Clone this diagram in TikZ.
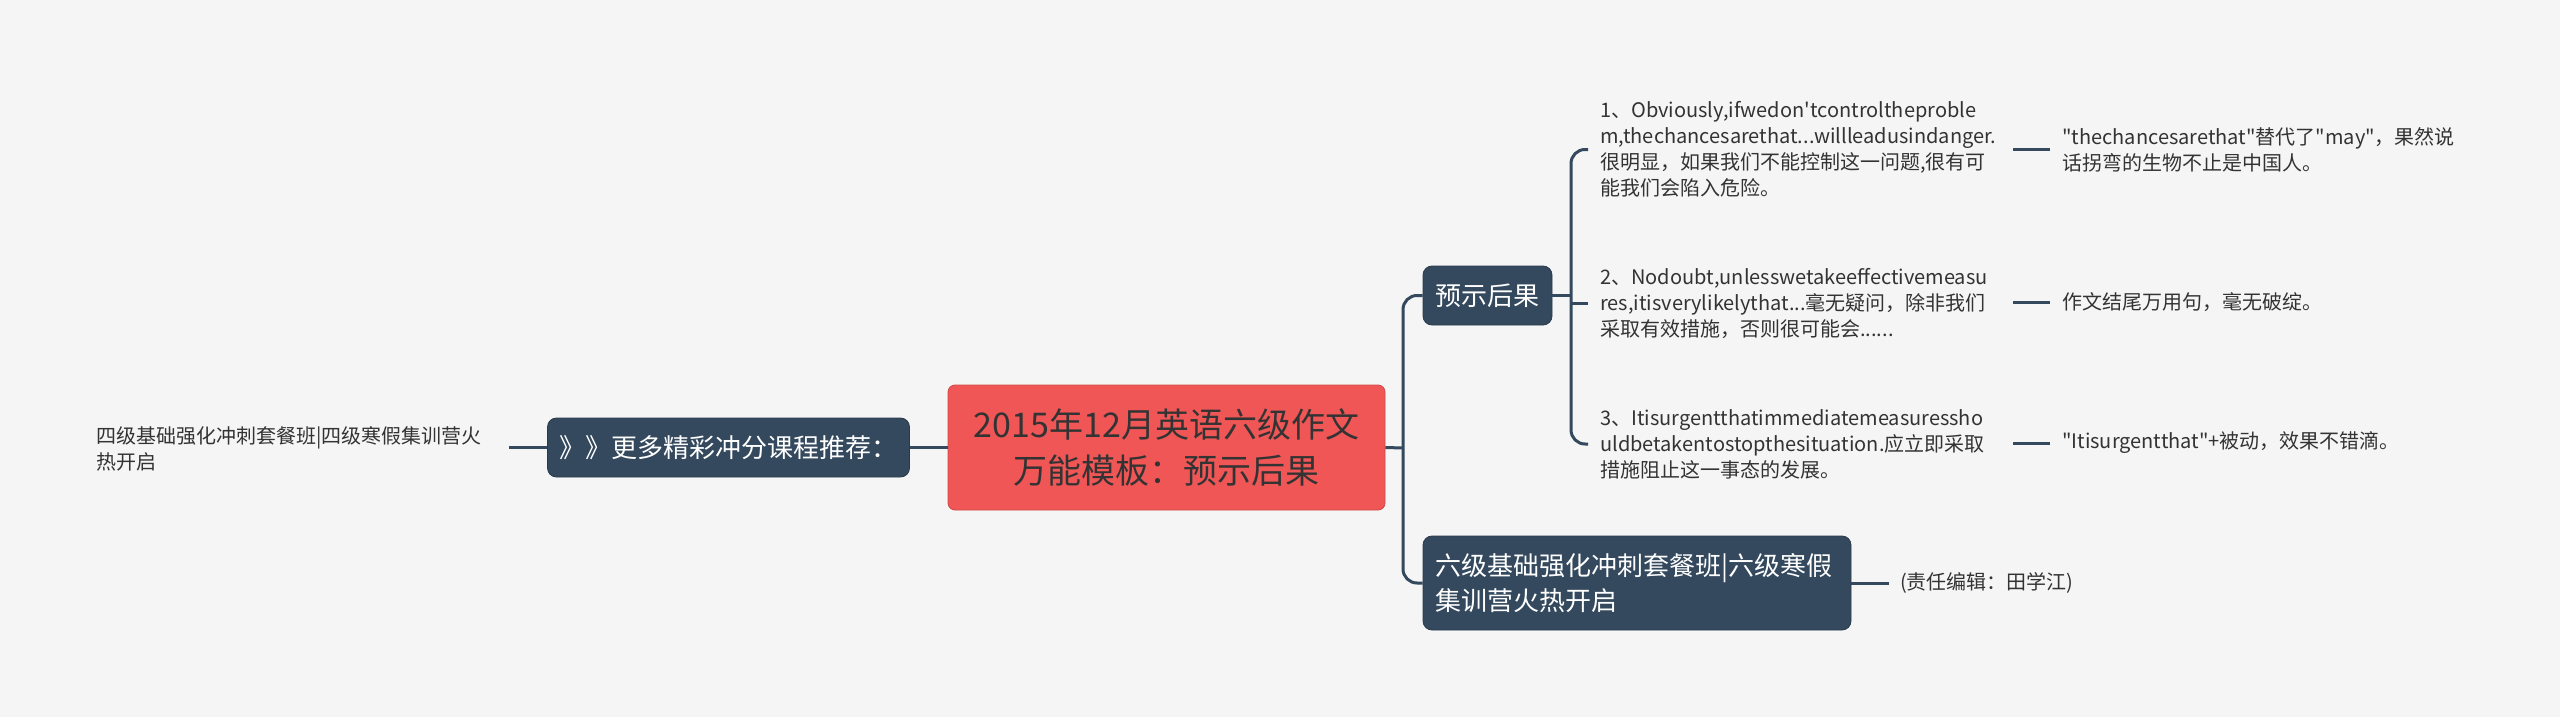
\documentclass[tikz,border=0pt]{standalone}
\usepackage{fontspec}
\setmainfont{Noto Sans CJK SC}[Ligatures=TeXOff]
\definecolor{bg}{HTML}{F5F5F5}
\definecolor{dark}{HTML}{34495E}
\definecolor{redn}{HTML}{F05656}
\definecolor{txt}{HTML}{333333}
\begin{document}
\begin{tikzpicture}[x=1pt,y=-1pt,
  conn/.style={draw=dark, line width=3pt},
  darkbox/.style={fill=dark, draw=dark!80!black, line width=0.8pt, rounded corners=9pt, text=white, inner xsep=12pt, inner ysep=0pt},
  leaf/.style={anchor=west, align=left, inner sep=0pt, text=txt, font=\fontsize{20}{26}\selectfont}]
\fill[bg] (0,0) rectangle (2560,717);
\useasboundingbox (0,0) rectangle (2560,717);

\node[fill=redn, draw=redn!85!black, line width=0.8pt, rounded corners=7pt, minimum width=437pt, minimum height=125pt, text width=413pt, align=center, text=txt, font=\fontsize{34}{46}\selectfont, inner sep=0pt] (root) at (1166.5,447.5) {2015年12月英语六级作文\\万能模板：预示后果};

\node[darkbox, minimum width=361pt, minimum height=59pt, font=\fontsize{26}{34}\selectfont] (more) at (728.5,447.5) {》》更多精彩冲分课程推荐：};

\node[leaf] (lt) at (96,449) {四级基础强化冲刺套餐班|四级寒假集训营火\\热开启};

\node[darkbox, minimum width=129pt, minimum height=59pt, font=\fontsize{26}{34}\selectfont] (ys) at (1487.5,295.5) {预示后果};

\node[darkbox, text width=404pt, align=left, minimum height=94pt, font=\fontsize{26}{35}\selectfont] (lj) at (1637,583) {六级基础强化冲刺套餐班|六级寒假\\集训营火热开启};

\node[leaf] (l1) at (1600,149.5) {1、Obviously,ifwedon'tcontroltheproble\\m,thechancesarethat...willleadusindanger.\\很明显，如果我们不能控制这一问题,很有可\\能我们会陷入危险。};
\node[leaf] (l2) at (1600,303) {2、Nodoubt,unlesswetakeeffectivemeasu\\res,itisverylikelythat...毫无疑问，除非我们\\采取有效措施，否则很可能会......};
\node[leaf] (l3) at (1600,444) {3、Itisurgentthatimmediatemeasuressho\\uldbetakentostopthesituation.应立即采取\\措施阻止这一事态的发展。};

\node[leaf] (n1) at (2062,149.5) {"thechancesarethat"替代了"may"，果然说\\话拐弯的生物不止是中国人。};
\node[leaf] (n2) at (2062,302) {作文结尾万用句，毫无破绽。};
\node[leaf] (n3) at (2062,443) {"Itisurgentthat"+被动，效果不错滴。};
\node[leaf] (ed) at (1900,583) {(责任编辑：田学江)};

\coordinate (t1) at (1403,448);
\coordinate (t2) at (1571,295.5);
\draw[conn] (more.west) -- ++(-38,0);
\draw[conn] (more.east) -- (root.west);
\draw[conn] (root.east) -- (t1);
\draw[conn, rounded corners=14pt] (ys.west) -| (t1) |- (lj.west);
\draw[conn] (ys.east) -- (t2);
\draw[conn, rounded corners=14pt] ([xshift=-12pt]l1.west) -| (t2) |- ([xshift=-12pt]l3.west);
\draw[conn] (t2 |- l2.west) -- ([xshift=-12pt]l2.west);
\draw[conn] ([xshift=-12pt]n1.west) -- ++(-37,0);
\draw[conn] ([xshift=-12pt]n2.west) -- ++(-37,0);
\draw[conn] ([xshift=-12pt]n3.west) -- ++(-37,0);
\draw[conn] (lj.east) -- ([xshift=-11pt]ed.west);
\end{tikzpicture}
\end{document}
